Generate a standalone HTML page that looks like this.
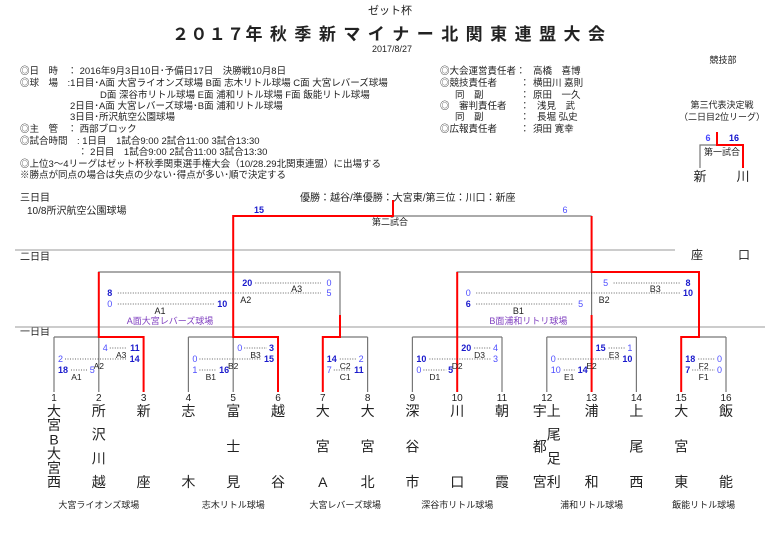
<!DOCTYPE html>
<html><head><meta charset="utf-8">
<style>
html,body{margin:0;padding:0;background:#fff;}
svg{display:block;font-family:"Liberation Sans","Noto Sans CJK JP",sans-serif;}
</style></head>
<body>
<svg id="chart" width="780" height="533" viewBox="0 0 780 533" xmlns="http://www.w3.org/2000/svg">
<g fill="#222">
<text x="390" y="14" font-size="11" text-anchor="middle">ゼット杯</text>
<text x="172" y="40" font-size="17" font-weight="bold" textLength="433" lengthAdjust="spacing">２０１７年 秋 季 新 マ イ ナ ー 北 関 東 連 盟 大 会</text>
<text x="392" y="52" font-size="9" text-anchor="middle">2017/8/27</text>
<text x="723" y="63" font-size="9" text-anchor="middle">競技部</text>
</g>
<g font-size="9.5" fill="#222">
<text x="20" y="74">◎日　時　：  2016年9月3日10日･予備日17日　決勝戦10月8日</text>
<text x="20" y="86">◎球　場　:1日目･A面 大宮ライオンズ球場 B面 志木リトル球場 C面 大宮レバーズ球場</text>
<text x="100" y="98">D面 深谷市リトル球場 E面 浦和リトル球場 F面 飯能リトル球場</text>
<text x="70" y="109">2日目･A面 大宮レバーズ球場･B面 浦和リトル球場</text>
<text x="70" y="120">3日目･所沢航空公園球場</text>
<text x="20" y="132">◎主　管　：  西部ブロック</text>
<text x="20" y="144">◎試合時間　: 1日目　1試合9:00  2試合11:00  3試合13:30</text>
<text x="78" y="155">：  2日目　1試合9:00  2試合11:00  3試合13:30</text>
<text x="20" y="167">◎上位3～4リーグはゼット杯秋季関東選手権大会（10/28.29北関東連盟）に出場する</text>
<text x="20" y="178">※勝点が同点の場合は失点の少ない･得点が多い･順で決定する</text>
</g>
<g font-size="9.5" fill="#222">
<text x="440" y="74">◎大会運営責任者：</text><text x="533" y="74">高橋　喜博</text>
<text x="440" y="86">◎競技責任者</text><text x="520" y="86">：</text><text x="533" y="86">横田川 嘉則</text>
<text x="455" y="98">同　副</text><text x="520" y="98">：</text><text x="533" y="98">原田　一久</text>
<text x="440" y="109">◎　審判責任者</text><text x="520" y="109">：</text><text x="537" y="109">浅見　武</text>
<text x="455" y="120">同　副</text><text x="520" y="120">：</text><text x="537" y="120">長堀 弘史</text>
<text x="440" y="132">◎広報責任者</text><text x="520" y="132">：</text><text x="533" y="132">須田 寛幸</text>
</g>
<g>
<text x="722" y="108" font-size="9" text-anchor="middle" fill="#222">第三代表決定戦</text>
<text x="722" y="120" font-size="9" text-anchor="middle" fill="#222">（二日目2位リーグ）</text>
<text x="708" y="141" font-size="9" font-weight="bold" fill="#44f" text-anchor="middle">6</text>
<text x="734" y="141" font-size="9" font-weight="bold" fill="#11c" text-anchor="middle">16</text>
<path d="M700 168V145H717" stroke="#777" fill="none" stroke-width="1.2"/>
<path d="M717 132V145H743V168" stroke="#f00" fill="none" stroke-width="2"/>
<text x="722" y="155" font-size="9" text-anchor="middle" fill="#222">第一試合</text>
<text x="700" y="181" font-size="13" text-anchor="middle" fill="#222">新</text>
<text x="743" y="181" font-size="13" text-anchor="middle" fill="#222">川</text>
</g>
<g fill="#222">
<text x="20" y="201" font-size="10">三日目</text>
<text x="27" y="214" font-size="10">10/8所沢航空公園球場</text>
<text x="20" y="260" font-size="10">二日目</text>
<text x="20" y="335" font-size="10">一日目</text>
<text x="300" y="201" font-size="10">優勝：越谷/準優勝：大宮東/第三位：川口：新座</text>
<text x="390" y="225" font-size="9" text-anchor="middle">第二試合</text>
<text x="697" y="259" font-size="12" text-anchor="middle">座</text>
<text x="744" y="259" font-size="12" text-anchor="middle">口</text>
<line x1="15" y1="250" x2="675" y2="250" stroke="#999"/>
<line x1="15" y1="327" x2="765" y2="327" stroke="#999"/>
</g>
<g id="gray" stroke="#777" stroke-width="1.2" fill="none"></g>
<g id="red" stroke="#f00" stroke-width="2" fill="none"></g>
<g id="labels"></g>
</svg>
<script>
const teamNames = ["大宮B大宮西","所沢川越","新座","志木","富士見","越谷","大宮A","大宮北","深谷市","川口","朝霞","宇都宮|上尾足利","浦和","上尾西","大宮東","飯能"];
const groupNames = ["A","B","C","D","E","F"];
const groupTeams = [[1,2,3],[4,5,6],[7,8],[9,10,11],[12,13,14],[15,16]];
const venues = ["大宮ライオンズ球場","志木リトル球場","大宮レバーズ球場","深谷市リトル球場","浦和リトル球場","飯能リトル球場"];
// day1 scores per group: [game label, left team, right team, left score, right score]
const day1Games = [
 [["A1",1,2,18,5],["A2",1,3,2,14],["A3",2,3,4,11]],
 [["B1",4,5,1,16],["B2",4,6,0,15],["B3",5,6,0,3]],
 [["C1",7,8,7,11],["C2",7,8,14,2]],
 [["D1",9,10,0,5],["D2",9,11,10,3],["D3",10,11,20,4]],
 [["E1",12,13,10,14],["E2",12,14,0,10],["E3",13,14,15,1]],
 [["F1",15,16,7,0],["F2",15,16,18,0]]
];
// day2 scores: [label, left score, right score]
const day2Games = [
 [["A1",0,10],["A2",8,5],["A3",20,0]],
 [["B1",6,5],["B2",0,10],["B3",5,8]]
];
const day2Venues = ["A面大宮レバーズ球場","B面浦和リトリ球場"];
const finalScores = [15,6];

const NS="http://www.w3.org/2000/svg";
const tx = i => 54 + (i-1)*44.8;
const svgG = document.getElementById('labels');
const gray = document.getElementById('gray');
const red = document.getElementById('red');
function T(parent,x,y,s,size,opt){const t=document.createElementNS(NS,'text');t.setAttribute('x',x);t.setAttribute('y',y);t.setAttribute('font-size',size);t.setAttribute('fill',(opt&&opt.fill)||'#222');t.setAttribute('text-anchor',(opt&&opt.anchor)||'middle');if(opt&&opt.bold)t.setAttribute('font-weight','bold');t.textContent=s;parent.appendChild(t);return t;}
function P(parent,d){const p=document.createElementNS(NS,'path');p.setAttribute('d',d);parent.appendChild(p);return p;}
function L(x1,y1,x2,y2){const p=document.createElementNS(NS,'line');p.setAttribute('x1',x1);p.setAttribute('y1',y1);p.setAttribute('x2',x2);p.setAttribute('y2',y2);p.setAttribute('stroke','#333');p.setAttribute('stroke-dasharray','1,1.5');p.setAttribute('stroke-width','0.8');svgG.appendChild(p);return p;}
const scColor=(a,b)=>a>b?{fill:'#1a1acc',bold:true}:{fill:'#4d4dff'};

teamNames.forEach((nm,k)=>{
  const i=k+1, x=tx(i);
  const num=T(svgG,x,401,String(i),10);
  
  
  const parts=nm.split('|');
  parts.forEach((p,j)=>{
    const cx = parts.length>1 ? x+(j===0?-7:7) : x;
    const n=p.length;
    for(let c=0;c<n;c++){
      const y = n===1?416 : 416 + c*(71/(n-1));
      const t=T(svgG,cx,y,p[c],14);
      
      
    }
  });
});
const rowY=[370,359,348];
groupTeams.forEach((g,gi)=>{
  const x1=tx(g[0]), x2=tx(g[g.length-1]);
  P(gray,`M${x1} 337H${x2}`);
  g.forEach(i=>P(gray,`M${tx(i)} 337V392`));
  const v=T(svgG,(x1+x2)/2,508,venues[gi],9);
  
  
  day1Games[gi].forEach((gm,r)=>{
    const y=rowY[r];
    const xa=tx(gm[1])+4, xb=tx(gm[2])-4;
    const s1=T(svgG,xa,y+3,String(gm[3]),9,Object.assign({anchor:'start'},scColor(gm[3],gm[4])));
    
    
    const s2=T(svgG,xb,y+3,String(gm[4]),9,Object.assign({anchor:'end'},scColor(gm[4],gm[3])));
    
    
    L(xa+String(gm[3]).length*6+1,y,xb-String(gm[4]).length*6-1,y);
    T(svgG,(xa+xb)/2,y+10,gm[0],8.5);
  });
});
const d2=[{l:tx(2),m:tx(5),r:340},{l:tx(10),m:tx(13),r:699}];
d2.forEach((b,k)=>{
  P(gray,`M${b.l} 337V272H${b.r}V337M${b.m} 272V337`);
  const gm=day2Games[k];
  const pre=groupNames[k];
  const rows=[[gm[0],b.l+11,b.m-11,304],[gm[1],b.l+11,b.r-11,293],[gm[2],b.m+14,b.r-11,283]];
  rows.forEach((rw,j)=>{
    const [g,xa,xb,y]=rw;
    const a=T(svgG,xa,y+3,String(g[1]),9,Object.assign({anchor:'middle'},scColor(g[1],g[2])));
    
    
    const c=T(svgG,xb,y+3,String(g[2]),9,Object.assign({anchor:'middle'},scColor(g[2],g[1])));
    
    
    L(xa+8,y,xb-8,y);
  });
  T(svgG,(b.l+b.m)/2-6,314,gm[0][0],9);
  T(svgG,b.m+7,303,gm[1][0],9,{anchor:'start'});
  T(svgG,(b.m+b.r)/2+10,292,gm[2][0],9);
  T(svgG,(b.l+b.m)/2+4,324,day2Venues[k],9,{fill:'#8040c0'});
});
P(gray,`M393 216H${tx(13)}`);
const f1=T(svgG,259,213,String(finalScores[0]),9,scColor(finalScores[0],finalScores[1]));


const f2=T(svgG,565,213,String(finalScores[1]),9,scColor(finalScores[1],finalScores[0]));


[
 `M${tx(3)} 392V337H${tx(2)}V272`,
 `M${tx(6)} 392V337H${tx(5)}V216H393V200`,
 `M${tx(7)} 392V337H340V315`,
 `M${tx(10)} 392V272`,
 `M${tx(13)} 392V315`,
 `M${tx(15)} 392V337H699V272H${tx(13)}V216`
].forEach(d=>{const p=P(red,d);
 
 });
</script>
</body></html>
